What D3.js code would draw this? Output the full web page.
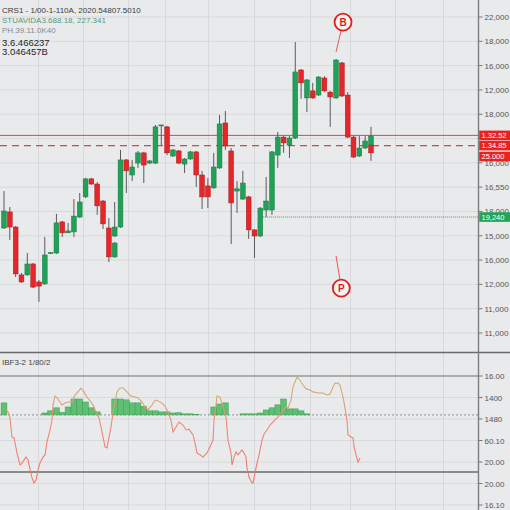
<!DOCTYPE html>
<html><head><meta charset="utf-8">
<script src="https://cdn.jsdelivr.net/npm/d3@7"></script>
<style>html,body{margin:0;padding:0;background:#e9eaec;} svg{display:block;font-family:"Liberation Sans",Arial,sans-serif;}</style>
</head><body><svg id="c" width="510" height="510"></svg>
<script>
// ---- header texts ----
const headerLines = ["CRS1 - 1/00-1-110A, 2020.54807.5010","STUAVIDA3.688.18, 227.341","PH.39.11.0K40","3.6.466237","3.046457B"];
const oscTitle = "IBF3-2 1/80/2";
// ---- candles (time index, open, high, low, close) ----
const candleT = [0,1,2,3,4,5,6,7,8,9,10,11,12,13,14,15,16,17,18,19,19,20,21,22,23,24,25,26,27,28,29,30,31,32,33,34,35,36,37,38,39,40,41,42,43,44,45,46,47,48,49,50,51,52,53,54,55,56,57,58,59,60,61,62,63,63];
const openV = [14.32,14.98,14.36,12.39,12.39,12.84,12.10,12.02,13.28,13.29,14.57,14.12,14.16,14.77,15.60,16.34,16.13,15.43,14.32,13.13,13.99,14.36,17.12,16.50,16.99,17.41,16.99,16.99,18.52,18.48,17.28,17.49,16.95,17.16,17.45,16.50,16.05,15.97,16.79,18.64,17.49,15.84,15.51,15.60,14.24,13.99,15.06,15.06,17.32,18.06,17.73,18.02,20.82,19.67,19.96,19.79,20.49,19.91,19.67,21.11,19.79,18.06,17.28,17.61,17.73,17.73];
const highV = [15.84,15.18,14.40,12.47,13.29,12.88,12.18,13.95,13.33,14.90,14.61,14.53,15.51,15.76,16.38,16.38,16.21,15.47,14.73,13.74,15.39,17.53,17.16,17.12,17.49,17.45,17.12,18.56,18.56,18.52,17.57,17.53,17.20,17.49,17.49,16.67,16.38,17.41,18.97,19.13,17.61,16.25,16.67,15.64,14.28,15.18,16.42,17.49,18.27,18.10,18.10,21.97,20.86,20.45,20.29,20.57,20.57,19.96,21.27,21.15,19.91,18.10,18.10,18.10,18.48,17.73];
const lowV = [14.28,13.83,12.30,12.06,12.35,11.85,11.28,11.98,13.25,13.25,13.95,14.12,13.95,14.73,15.55,16.09,14.86,14.28,12.92,13.09,13.95,14.32,15.76,16.25,16.79,16.17,16.95,16.95,17.73,17.32,17.24,16.95,16.58,17.12,16.01,15.10,15.14,15.93,16.75,17.53,13.66,14.94,15.47,13.87,13.09,13.95,14.77,14.86,16.79,17.41,17.20,17.98,19.63,19.09,19.63,19.75,19.91,18.48,19.63,19.71,18.02,17.20,17.24,17.57,17.69,17.08];
const closeV = [15.02,14.36,12.43,12.10,12.84,11.89,11.93,13.21,13.31,14.53,14.12,14.20,14.81,15.39,16.34,16.13,15.23,14.49,13.13,13.70,14.36,17.12,16.67,16.83,17.41,16.91,17.08,18.48,18.56,17.41,17.53,16.99,17.16,17.45,16.50,15.60,15.60,16.83,18.60,17.69,15.35,15.93,16.17,14.24,13.99,15.14,15.43,17.45,18.06,17.82,18.02,20.74,20.29,20.41,19.67,20.53,19.96,19.71,21.23,19.75,18.06,17.24,17.61,17.90,18.10,17.41];
// ---- price axis (the label at 18 is hidden behind the level tags in the reference) ----
const priceTicks = [23,22,21,20,19,17,16,15,14,13,12,11,10];
const priceTickLabels = ["22,000","18,000","16,000","12,000","18,000","16,000","16,550","18,000","15,000","16,000","12,000","11,000","11,000"];
const priceGrid = [23,22,21,20,19,18,17,16,15,14,13,12,11,10];
// ---- price levels ----
const levelValues = [18.13, 17.71, 17.26, 14.77];
const levelTexts = ["1.32.52","1.34.85","25.000","19,240"];
const greenLevelStartT = 44.5;
// ---- vertical grid times ----
const gridTimes = [5.8, 13.6, 21.3, 27.6, 35.0, 42.9, 52.5, 59.4, 67.1, 75.4];
// ---- markers ----
const markerLabels = ["B","P"];
const markerT = [58.2, 57.9];
const markerP = [22.79, 11.85];
const markerTipT = [57.0, 57.0];
const markerTipP = [21.56, 13.17];
// ---- oscillator ----
const oscTicks = [60,50,40,30,20,10,0];
const oscTickLabels = ["16.00","1400","1480","60.10","20.00","20.00","16.10"];
const oscUpper = 60, oscLower = 15.35, oscBase = 41.9;
const histV = [5.6,null,null,null,null,null,null,0.9,1.9,3.3,1.2,3.7,7.4,7.4,6.0,3.3,1.4,null,null,7.4,7.4,7.0,5.6,5.6,4.0,1.9,1.9,1.4,1.4,0.9,1.0,0.5,0.5,0.3,null,null,3.7,5.1,5.6,null,null,0.5,0.5,0.5,0.9,2.3,3.3,4.7,7.4,2.8,2.8,1.9,0.5,null,null,null,null,null,null,null,null,null,null,null];
const oscT = [0.34,0.69,1.03,1.37,1.72,2.23,2.75,3.09,3.78,4.12,
4.81,5.15,5.49,5.84,6.18,6.70,7.04,7.38,7.90,8.24,
8.41,8.76,9.10,9.61,9.96,10.47,10.99,11.67,12.19,12.70,
13.22,13.73,14.25,14.94,15.28,15.79,16.31,16.65,17.00,17.34,
17.68,18.03,18.37,18.71,19.06,19.40,19.91,20.43,21.12,21.80,
22.49,23.00,23.69,24.21,24.72,25.41,25.92,26.44,27.12,27.64,
28.15,28.67,29.01,29.53,30.04,30.73,31.24,31.76,32.45,32.79,
33.13,33.65,34.16,34.85,35.36,35.88,36.05,36.39,36.57,37.08,
37.60,38.11,38.45,38.97,39.14,39.48,39.83,40.17,40.86,41.20,
41.55,41.72,42.06,42.58,42.75,43.09,43.43,43.78,44.29,44.64,
45.15,45.67,46.18,46.87,47.38,47.90,48.41,48.76,49.27,49.61,
50.30,50.64,51.33,51.85,52.53,53.05,53.91,54.76,55.45,55.97,
56.48,56.82,57.34,57.68,58.20,58.54,58.88,59.06,59.57,59.91,
60.09,60.43,60.77,61.12];
const oscV = [44.2,43.3,40.5,31.6,31.2,24.2,18.6,19.5,22.3,20.9,
12.6,10.2,11.6,16.3,19.5,22.3,23.3,29.3,34.9,39.5,
46.5,50.7,49.8,47.9,46.5,47.4,47.9,47.9,51.2,52.6,
54.4,52.6,50.2,47.9,46.5,43.3,40.5,36.3,31.6,27.0,
26.5,31.6,36.3,42.8,47.9,52.6,54.4,54.4,52.6,50.7,
50.2,49.8,47.9,45.6,44.2,46.5,48.8,48.4,47.4,46.0,
43.3,39.5,34.0,36.3,38.6,37.2,34.9,35.3,32.6,28.8,
24.2,23.3,22.3,24.2,27.0,30.2,39.5,46.5,50.7,50.2,
45.6,40.9,30.2,24.2,18.6,22.3,24.7,23.3,25.6,24.2,
22.3,17.2,13.0,10.2,10.2,14.9,19.5,23.3,30.2,33.0,
34.9,37.2,38.6,40.5,41.9,44.2,45.6,45.1,48.8,54.9,
59.5,58.6,55.8,54.0,53.5,52.6,52.1,52.1,51.2,51.6,
54.9,56.7,56.7,55.8,50.2,45.1,39.5,32.6,31.6,31.2,
27.0,23.3,20.0,21.9];

// ---- drawing ----
const W = 510, H = 510, AX = 478.5;
const GREEN = "#23a058", RED = "#e6262a";
const svg = d3.select("#c");
svg.append("rect").attr("width", W).attr("height", H).attr("fill", "#e9eaec");

const x = d3.scaleLinear().domain([0, 63]).range([4, 371]);
const y = d3.scaleLinear().domain([10, 23]).range([333, 17]);
const yo = d3.scaleLinear().domain([0, 60]).range([505, 376]);
const step = x(1) - x(0);

// grid
const grid = svg.append("g").attr("stroke", "#d8d9dc").attr("stroke-width", 1);
grid.selectAll(".v").data(gridTimes).join("line")
  .attr("x1", d => Math.round(x(d)) + 0.5).attr("x2", d => Math.round(x(d)) + 0.5)
  .attr("y1", 0).attr("y2", H);
grid.selectAll(".h").data(priceGrid).join("line")
  .attr("x1", 0).attr("x2", AX).attr("y1", d => y(d)).attr("y2", d => y(d));
grid.selectAll(".ho").data(oscTicks).join("line")
  .attr("x1", 0).attr("x2", AX).attr("y1", d => yo(d)).attr("y2", d => yo(d));

// header
const hdrY = [12.5, 22.5, 32.5, 45.5, 55];
const hdrC = ["#3a3a3a", "#5a9a78", "#8a8a8a", "#262626", "#262626"];
const hdrS = [8, 8, 8, 9.5, 9.5];
svg.selectAll(".hdr").data(headerLines).join("text")
  .attr("x", 2).attr("y", (d, i) => hdrY[i]).attr("fill", (d, i) => hdrC[i])
  .attr("font-size", (d, i) => hdrS[i]).text(d => d);

// price level lines
svg.append("line").attr("x1", 0).attr("x2", AX).attr("y1", y(levelValues[0])).attr("y2", y(levelValues[0]))
  .attr("stroke", "#e0453c").attr("stroke-width", 1);
svg.append("line").attr("x1", 0).attr("x2", AX).attr("y1", y(levelValues[1])).attr("y2", y(levelValues[1]))
  .attr("stroke", "#e0453c").attr("stroke-width", 1.2).attr("stroke-dasharray", "7,5");
svg.append("line").attr("x1", x(greenLevelStartT)).attr("x2", AX).attr("y1", y(levelValues[3])).attr("y2", y(levelValues[3]))
  .attr("stroke", "#2f9f58").attr("stroke-width", 1).attr("stroke-dasharray", "1,1");

// candles
const idx = d3.range(candleT.length);
const cg = svg.append("g");
cg.selectAll(".w").data(idx).join("line")
  .attr("x1", i => x(candleT[i])).attr("x2", i => x(candleT[i]))
  .attr("y1", i => y(highV[i])).attr("y2", i => y(lowV[i]))
  .attr("stroke", "#5a5a5a").attr("stroke-width", 1);
cg.selectAll(".b").data(idx).join("rect")
  .attr("x", i => x(candleT[i]) - 2.4).attr("width", 4.8)
  .attr("y", i => Math.min(y(openV[i]), y(closeV[i])))
  .attr("height", i => Math.max(1, Math.abs(y(openV[i]) - y(closeV[i]))))
  .attr("fill", i => closeV[i] >= openV[i] ? GREEN : RED)
  .attr("stroke", i => closeV[i] >= openV[i] ? "#1a7a42" : "#a81c1f").attr("stroke-width", 0.5);

// markers
markerLabels.forEach((lab, i) => {
  const cx = x(markerT[i]), cy = y(markerP[i]);
  const tx = x(markerTipT[i]), ty = y(markerTipP[i]);
  const dx = tx - cx, dy = ty - cy, len = Math.hypot(dx, dy), r = 8.5;
  svg.append("line").attr("x1", cx + dx / len * r).attr("y1", cy + dy / len * r)
    .attr("x2", tx).attr("y2", ty).attr("stroke", "#e35a55").attr("stroke-width", 1);
  svg.append("circle").attr("cx", cx).attr("cy", cy).attr("r", r)
    .attr("fill", "#f4f4f4").attr("stroke", "#e01e1e").attr("stroke-width", 1.8);
  svg.append("text").attr("x", cx).attr("y", cy + 3.5).attr("text-anchor", "middle")
    .attr("font-size", 10).attr("font-weight", "bold").attr("fill", "#e01e1e").text(lab);
});

// panel separator lines
svg.append("line").attr("x1", 0).attr("x2", W).attr("y1", 352.5).attr("y2", 352.5).attr("stroke", "#6a6a6a").attr("stroke-width", 1.3);
svg.append("text").attr("x", 2).attr("y", 365).attr("font-size", 8).attr("fill", "#444").text(oscTitle);
svg.append("line").attr("x1", 0).attr("x2", AX).attr("y1", yo(oscUpper)).attr("y2", yo(oscUpper)).attr("stroke", "#777").attr("stroke-width", 1.2);
svg.append("line").attr("x1", 0).attr("x2", AX).attr("y1", yo(oscLower)).attr("y2", yo(oscLower)).attr("stroke", "#8a8a8a").attr("stroke-width", 2);
svg.append("line").attr("x1", 0).attr("x2", AX).attr("y1", yo(oscBase)).attr("y2", yo(oscBase)).attr("stroke", "#777").attr("stroke-width", 0.8).attr("stroke-dasharray", "2,2");

// histogram
const hIdx = d3.range(histV.length).filter(i => histV[i] != null);
svg.append("g").selectAll("rect").data(hIdx).join("rect")
  .attr("x", i => x(i) - step / 2).attr("width", step)
  .attr("y", i => yo(oscBase + histV[i]))
  .attr("height", i => yo(oscBase) - yo(oscBase + histV[i]))
  .attr("fill", "#5fbf72").attr("stroke", "#3f9c55").attr("stroke-width", 0.5);

// oscillator line
const defs = svg.append("defs");
const gr = defs.append("linearGradient").attr("id", "og").attr("gradientUnits", "userSpaceOnUse")
  .attr("x1", 0).attr("x2", 0).attr("y1", yo(oscUpper)).attr("y2", yo(oscLower));
[[0, "#c9b36f"], [0.25, "#d9a572"], [0.42, "#ee8c76"], [1, "#f07a6c"]].forEach(s =>
  gr.append("stop").attr("offset", s[0]).attr("stop-color", s[1]));
const line = d3.line().x(i => x(oscT[i])).y(i => yo(oscV[i])).curve(d3.curveLinear);
svg.append("path").attr("d", line(d3.range(oscT.length))).attr("fill", "none")
  .attr("stroke", "url(#og)").attr("stroke-width", 1.1);

// right axis
svg.append("line").attr("x1", AX).attr("x2", AX).attr("y1", 0).attr("y2", H).attr("stroke", "#7d7d7d").attr("stroke-width", 1.4);
const axG = svg.append("g").attr("font-size", 8).attr("fill", "#555");
priceGrid.forEach(t => {
  axG.append("line").attr("x1", AX).attr("x2", AX + 4).attr("y1", y(t)).attr("y2", y(t)).attr("stroke", "#777");
});
priceTicks.forEach((t, i) => {
  axG.append("text").attr("x", AX + 6).attr("y", y(t) + 3).text(priceTickLabels[i]);
});
oscTicks.forEach((t, i) => {
  axG.append("line").attr("x1", AX).attr("x2", AX + 4).attr("y1", yo(t)).attr("y2", yo(t)).attr("stroke", "#777");
  axG.append("text").attr("x", AX + 6).attr("y", yo(t) + 3).text(oscTickLabels[i]);
});

// level labels (drawn over the axis labels, as in the reference)
const lvlFill = ["#e8231f", "#e8231f", "#e8231f", "#22a45a"];
levelValues.forEach((v, i) => {
  const cy = y(v);
  svg.append("rect").attr("x", AX + 0.7).attr("y", cy - 4.8).attr("width", W - AX).attr("height", 9.6).attr("fill", lvlFill[i]);
  svg.append("text").attr("x", AX + 3).attr("y", cy + 2.8).attr("font-size", 7.5).attr("fill", "#fff").text(levelTexts[i]);
});
</script></body></html>
